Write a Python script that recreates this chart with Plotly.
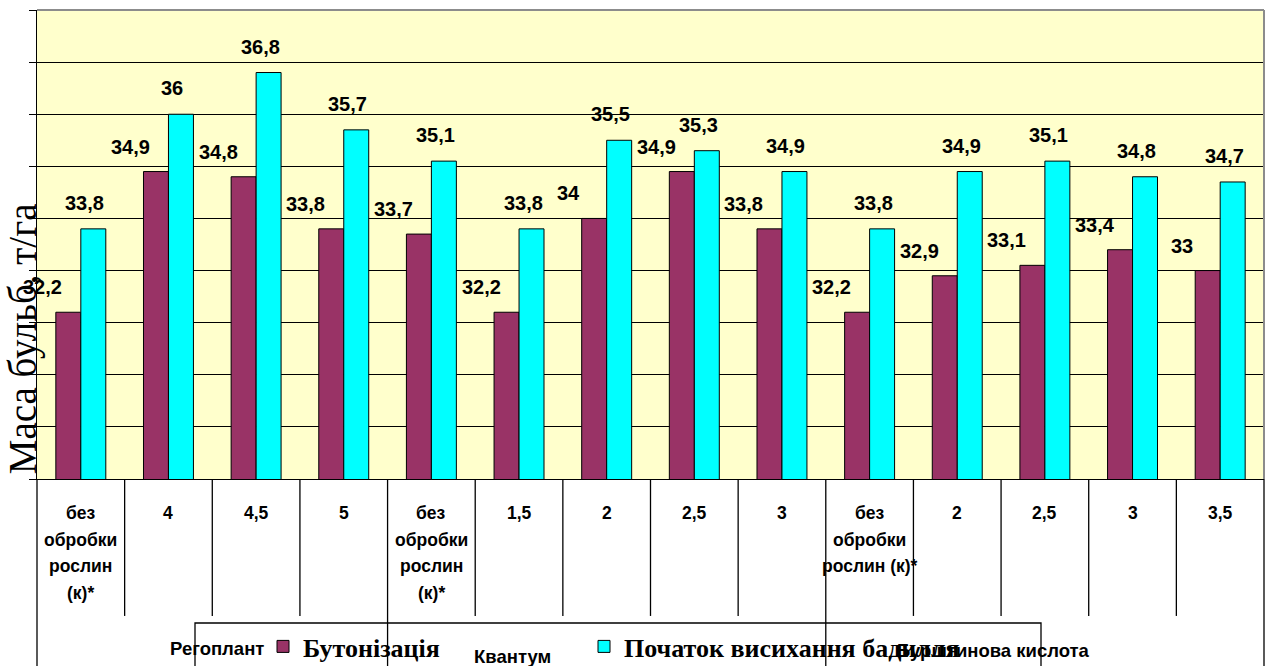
import plotly.graph_objects as go

# ---------------- data ----------------
categories = ["без<br>обробки<br>рослин<br>(к)*", "4", "4,5", "5",
              "без<br>обробки<br>рослин<br>(к)*", "1,5", "2", "2,5", "3",
              "без<br>обробки<br>рослин (к)*", "2", "2,5", "3", "3,5"]
groups = ["Регоплант", "Квантум", "Бурштинова кислота"]
group_sizes = [4, 5, 5]
series_names = ["Бутонізація", "Початок висихання бадилля"]
budding = [32.2, 34.9, 34.8, 33.8, 33.7, 32.2, 34.0, 34.9, 33.8, 32.2, 32.9, 33.1, 33.4, 33.0]
wilting = [33.8, 36.0, 36.8, 35.7, 35.1, 33.8, 35.5, 35.3, 34.9, 33.8, 34.9, 35.1, 34.8, 34.7]
y_title = "Маса бульб, т/га"

# ---------------- style ----------------
W, H = 1271, 666
ML, MR, MT, MB = 37, 7, 10, 187
PURPLE = "#993366"
CYAN = "#00FFFF"
SANS = "Liberation Sans, Arial, sans-serif"
SERIF = "Liberation Serif, Times New Roman, serif"

n = len(categories)
xs = list(range(n))


def fmt(v):
    return f"{v:g}".replace(".", ",")


fig = go.Figure()
fig.add_trace(go.Bar(x=xs, y=budding, name=series_names[0], legendwidth=276,
                     marker=dict(color=PURPLE, line=dict(color="black", width=1))))
fig.add_trace(go.Bar(x=xs, y=wilting, name=series_names[1], legendwidth=420,
                     marker=dict(color=CYAN, line=dict(color="black", width=1))))

annotations = []
# data labels
for i, v in enumerate(budding):
    annotations.append(dict(x=i, y=v, xref="x", yref="y", text=fmt(v), showarrow=False,
                            xshift=-38, yshift=25, yanchor="middle",
                            font=dict(family=SANS, size=20, color="black", weight="bold")))
for i, v in enumerate(wilting):
    annotations.append(dict(x=i, y=v, xref="x", yref="y", text=fmt(v), showarrow=False,
                            xshift=4, yshift=26, yanchor="middle",
                            font=dict(family=SANS, size=20, color="black", weight="bold")))

# category labels (one annotation per line for Excel-like spacing)
for i, cat in enumerate(categories):
    for j, line in enumerate(cat.split("<br>")):
        annotations.append(dict(x=i, y=0, xref="x", yref="paper", text=line, showarrow=False,
                                yanchor="middle", yshift=-(34 + 26.5 * j),
                                font=dict(family=SANS, size=17.5, color="black", weight="bold")))

# group labels
group_label_x = [1.55, 4.92, 10.41]
group_label_y = [-0.362, -0.378, -0.365]
for g, gx, gy in zip(groups, group_label_x, group_label_y):
    annotations.append(dict(x=gx, y=gy, xref="x", yref="paper", text=g, showarrow=False,
                            yanchor="middle",
                            font=dict(family=SANS, size=18.5, color="black", weight="bold")))

# y axis title
annotations.append(dict(x=0, y=0.298, xref="paper", yref="paper", text=y_title,
                        showarrow=False, textangle=-90, xshift=-14,
                        xanchor="center", yanchor="middle",
                        font=dict(family=SERIF, size=39, color="#000000")))

# shapes: category dividers below the axis
shapes = []
bounds = [0]
for s in group_sizes:
    bounds.append(bounds[-1] + s)
for k in range(n + 1):
    xp = k / n
    y1 = -0.45 if k in bounds else -0.292
    shapes.append(dict(type="line", xref="paper", yref="paper", x0=xp, x1=xp, y0=0, y1=y1,
                       line=dict(color="black", width=1.3)))
# frame: top/right gray
shapes.append(dict(type="line", xref="paper", yref="paper", x0=0, x1=1, y0=1, y1=1,
                   line=dict(color="#8c8c8c", width=2)))
shapes.append(dict(type="line", xref="paper", yref="paper", x0=1, x1=1, y0=0, y1=1,
                   line=dict(color="#8c8c8c", width=2)))
# legend frame
shapes.append(dict(type="rect", xref="paper", yref="paper",
                   x0=(195 - ML) / (W - ML - MR), x1=(1041 - ML) / (W - ML - MR),
                   y0=-0.307, y1=-0.5, line=dict(color="black", width=1.3),
                   fillcolor="rgba(0,0,0,0)"))

fig.update_layout(
    width=W, height=H,
    margin=dict(l=ML, r=MR, t=MT, b=MB, pad=0),
    paper_bgcolor="white",
    plot_bgcolor="#FFFFCC",
    barmode="group",
    bargap=0.43,
    bargroupgap=0,
    showlegend=True,
    legend=dict(orientation="h", xref="container", yref="container",
                x=263 / W, y=1 - 623 / H, xanchor="left", yanchor="top",
                bgcolor="rgba(0,0,0,0)", borderwidth=0,
                font=dict(family=SERIF, size=26, color="black", weight="bold")),
    xaxis=dict(range=[-0.5, n - 0.5], showticklabels=False, ticks="",
               showgrid=False, zeroline=False, showline=True,
               linecolor="black", linewidth=1.3),
    yaxis=dict(range=[29, 38], dtick=1, tick0=29, showticklabels=False,
               ticks="outside", ticklen=7, tickcolor="black", tickwidth=1,
               showgrid=True, gridcolor="black", gridwidth=1, zeroline=False,
               showline=True, linecolor="black", linewidth=1.3),
    annotations=annotations,
    shapes=shapes,
)

fig.write_html("out.html")
